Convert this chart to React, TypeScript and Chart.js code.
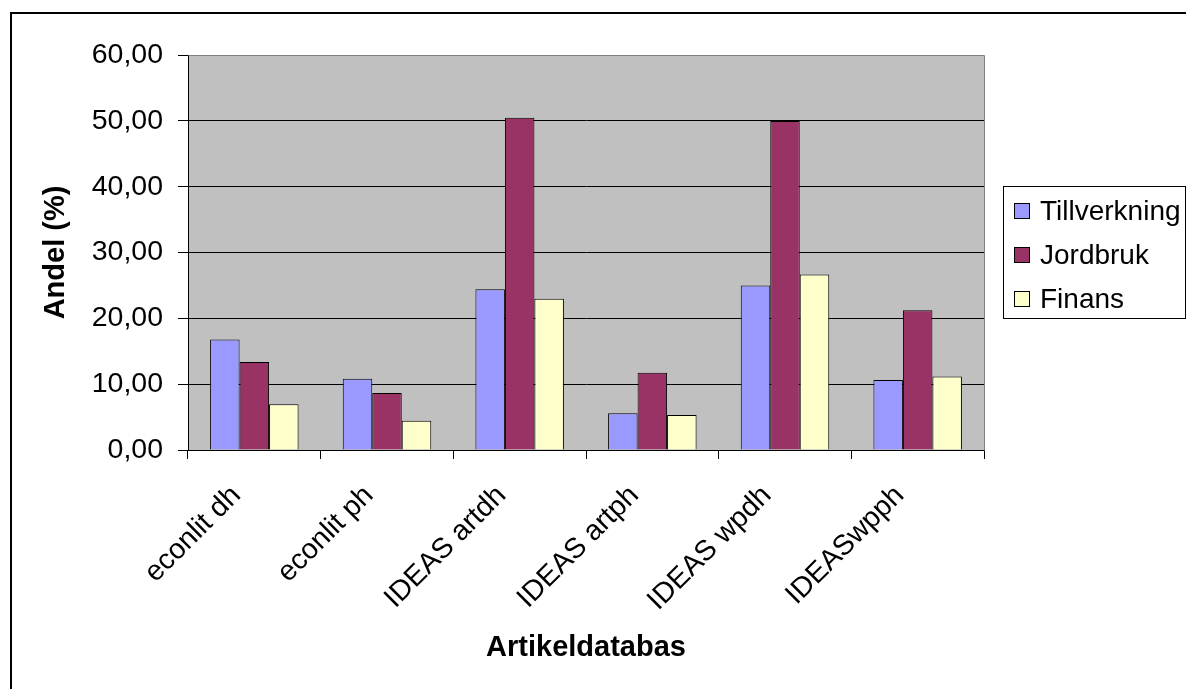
import React, { useEffect, useRef } from "react";
import { Chart, registerables } from "chart.js";

Chart.register(...registerables);

const categories = ["econlit dh", "econlit ph", "IDEAS artdh", "IDEAS artph", "IDEAS wpdh", "IDEASwpph"];
const tillverkning = [16.77, 10.84, 24.43, 5.58, 24.98, 10.64];
const jordbruk = [13.38, 8.66, 50.47, 11.75, 49.96, 21.23];
const finans = [6.94, 4.46, 22.96, 5.32, 26.65, 11.15];
const seriesNames = ["Tillverkning", "Jordbruk", "Finans"];
const seriesColors = ["#9999FF", "#993366", "#FFFFCC"];

const FONT = "'Liberation Sans', Arial, Helvetica, sans-serif";

const decorPlugin = {
  id: "decor",
  beforeDraw(chart: any) {
    const { ctx, chartArea } = chart;
    ctx.save();
    ctx.fillStyle = "#FFFFFF";
    ctx.fillRect(0, 0, chart.width, chart.height);
    ctx.fillStyle = "#C0C0C0";
    ctx.fillRect(chartArea.left, chartArea.top, chartArea.right - chartArea.left, chartArea.bottom - chartArea.top);
    ctx.restore();
  },
  afterDraw(chart: any) {
    const { ctx, chartArea } = chart;
    ctx.save();
    ctx.strokeStyle = "#808080";
    ctx.lineWidth = 1;
    ctx.beginPath();
    ctx.moveTo(Math.round(chartArea.left) + 0.5, Math.round(chartArea.top) + 0.5);
    ctx.lineTo(Math.round(chartArea.right) + 0.5, Math.round(chartArea.top) + 0.5);
    ctx.lineTo(Math.round(chartArea.right) + 0.5, Math.round(chartArea.bottom) + 0.5);
    ctx.stroke();
    ctx.strokeStyle = "#000000";
    ctx.lineWidth = 2;
    ctx.strokeRect(11, 13, 1300, 800);
    const lx = 1003.5, ly = 186.5, lw = 182, lh = 132;
    ctx.fillStyle = "#FFFFFF";
    ctx.fillRect(lx, ly, lw, lh);
    ctx.lineWidth = 1;
    ctx.strokeStyle = "#000000";
    ctx.strokeRect(lx, ly, lw, lh);
    ctx.font = `28px ${FONT}`;
    ctx.textBaseline = "middle";
    ctx.textAlign = "left";
    chart.data.datasets.forEach((ds: any, i: number) => {
      const cy = 211 + i * 44;
      ctx.fillStyle = ds.backgroundColor;
      ctx.fillRect(1014.5, Math.round(cy - 8) + 0.5, 15, 15);
      ctx.strokeStyle = "#000000";
      ctx.strokeRect(1014.5, Math.round(cy - 8) + 0.5, 15, 15);
      ctx.fillStyle = "#000000";
      ctx.fillText(ds.label, 1040, cy + 1);
    });
    ctx.restore();
  },
};

export default function App() {
  const ref = useRef<HTMLCanvasElement | null>(null);
  useEffect(() => {
    if (!ref.current) return;
    Chart.defaults.font.family = FONT;
    Chart.defaults.color = "#000000";
    const seriesData = [tillverkning, jordbruk, finans];
    const chart = new Chart(ref.current, {
      type: "bar",
      data: {
        labels: categories,
        datasets: seriesNames.map((name, i) => ({
          label: name,
          data: seriesData[i],
          backgroundColor: seriesColors[i],
          borderColor: "#000000",
          borderWidth: 1,
          categoryPercentage: 0.667,
          barPercentage: 1.0,
        })),
      },
      options: {
        animation: false,
        responsive: false,
        devicePixelRatio: 1,
        layout: { padding: { top: 55, right: 202, bottom: 0, left: 0 } },
        plugins: {
          legend: { display: false },
          tooltip: { enabled: false },
        },
        scales: {
          x: {
            grid: {
              drawOnChartArea: false,
              drawTicks: true,
              tickLength: 9,
              offset: true,
              color: "#000000",
            },
            border: { display: true, color: "#000000", width: 1 },
            ticks: {
              autoSkip: false,
              maxRotation: 45,
              minRotation: 45,
              padding: 20,
              labelOffset: -18,
              font: { size: 28.5, family: FONT },
              color: "#000000",
            },
            title: {
              display: true,
              text: "Artikeldatabas",
              font: { size: 29, weight: "bold", family: FONT },
              color: "#000000",
              padding: { top: 0, bottom: 24 },
            },
            afterFit(scale: any) {
              scale.height = 239;
            },
          },
          y: {
            min: 0,
            max: 60,
            grid: {
              color: "#000000",
              tickLength: 10,
              drawTicks: true,
            },
            border: { display: true, color: "#000000", width: 1 },
            ticks: {
              stepSize: 10,
              padding: 15,
              font: { size: 28.5, family: FONT },
              color: "#000000",
              callback: (v: any) => Number(v).toFixed(2).replace(".", ","),
            },
            title: {
              display: true,
              text: "Andel (%)",
              font: { size: 29, weight: "bold", family: FONT },
              color: "#000000",
              padding: { top: 39, bottom: 0 },
            },
            afterFit(scale: any) {
              scale.width = 188;
            },
          },
        },
      },
      plugins: [decorPlugin],
    } as any);
    return () => chart.destroy();
  }, []);
  return (
    <div style={{ position: "absolute", left: 0, top: 0, width: 1186, height: 689, background: "#fff" }}>
      <canvas ref={ref} width={1186} height={689} style={{ display: "block" }} />
    </div>
  );
}
